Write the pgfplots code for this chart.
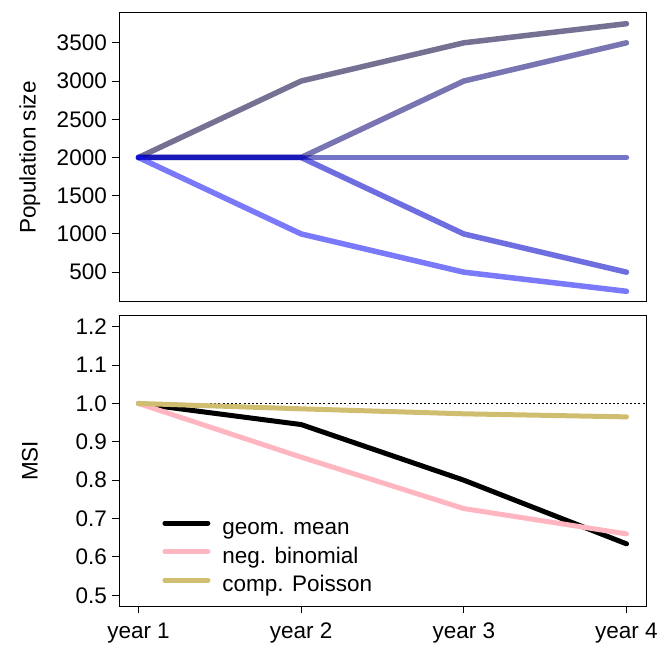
\documentclass[border=0pt]{standalone}
\usepackage{fontspec}
\setmainfont{Liberation Sans}
\usepackage{pgfplots}
\pgfplotsset{compat=1.18}

% blue series are drawn see-through, as in the original
\definecolor{popA}{RGB}{10,6,64}
\definecolor{popB}{RGB}{19,10,119}
\definecolor{popC}{RGB}{10,10,155}
\definecolor{popD}{RGB}{0,0,200}
\definecolor{popE}{RGB}{19,19,246}
\definecolor{negbin}{RGB}{255,182,193}
\definecolor{cpois}{RGB}{208,190,112}

\pgfplotsset{
  panel/.style={
    scale only axis, width=527bp,
    xmin=0.88, xmax=4.12,
    tick align=outside, tick pos=left,
    major tick length=7bp,
    axis line style={line width=1bp},
    every tick/.style={black, line width=1bp},
    /pgf/number format/assume math mode=true,
    yticklabel style={inner xsep=5bp},
    xticklabel style={inner ysep=10bp},
    ylabel style={at={(axis description cs:-0.169,0.5)}, anchor=center},
  },
}

\begin{document}
\fontsize{22.5bp}{27bp}\selectfont
\begin{tikzpicture}
\path[use as bounding box] (0,0) rectangle (672bp,647bp);

% top panel: population trajectories
\begin{axis}[panel,
  at={(119bp,345bp)}, anchor=south west, height=289bp,
  ymin=110, ymax=3890,
  ytick={500,1000,1500,2000,2500,3000,3500},
  yticklabel style={/pgf/number format/1000 sep={}},
  xtick=\empty,
  ylabel={Population size},
  every axis plot/.append style={line width=5.5bp, opacity=0.57, line cap=round, line join=round},
]
\addplot[popA] coordinates {(1,2000) (2,3000) (3,3500) (4,3750)};
\addplot[popB] coordinates {(1,2000) (2,2000) (3,3000) (4,3500)};
\addplot[popC] coordinates {(1,2000) (2,2000) (3,2000) (4,2000)};
\addplot[popD] coordinates {(1,2000) (2,2000) (3,1000) (4,500)};
\addplot[popE] coordinates {(1,2000) (2,1000) (3,500) (4,250)};
\end{axis}

% bottom panel: MSI
\begin{axis}[panel,
  at={(119bp,41bp)}, anchor=south west, height=290bp,
  ymin=0.472, ymax=1.228,
  ytick={0.5,0.6,0.7,0.8,0.9,1.0,1.1,1.2},
  yticklabel style={/pgf/number format/.cd, fixed, fixed zerofill, precision=1},
  xtick={1,2,3,4},
  xticklabels={year 1,year 2,year 3,year 4},
  ylabel={MSI},
  every axis plot/.append style={line width=5bp, line cap=round, line join=round},
  legend style={draw=none, fill=none, inner sep=0pt,
    at={(0.082,0.302)}, anchor=north west,
    nodes={inner sep=0pt, text height=16bp, text depth=5bp},
    row sep=7.5bp,
    /tikz/every odd column/.append style={column sep=12bp}},
  legend cell align=left,
  legend image code/.code={\draw[#1] (0bp,6bp) -- (43bp,6bp);},
]
\addplot[black, line width=1bp, dash pattern=on 2bp off 2.2bp, line cap=butt, forget plot]
  coordinates {(1,1) (4.12,1)};
\addplot[black] coordinates {(1,1.0) (2,0.945) (3,0.800) (4,0.634)};
\addplot[negbin] coordinates {(1,1.0) (2,0.860) (3,0.726) (4,0.660)};
\addplot[cpois] coordinates {(1,1.0) (2,0.986) (3,0.973) (4,0.965)};
\legend{geom. mean, neg. binomial, comp. Poisson}
\end{axis}
\end{tikzpicture}
\end{document}
